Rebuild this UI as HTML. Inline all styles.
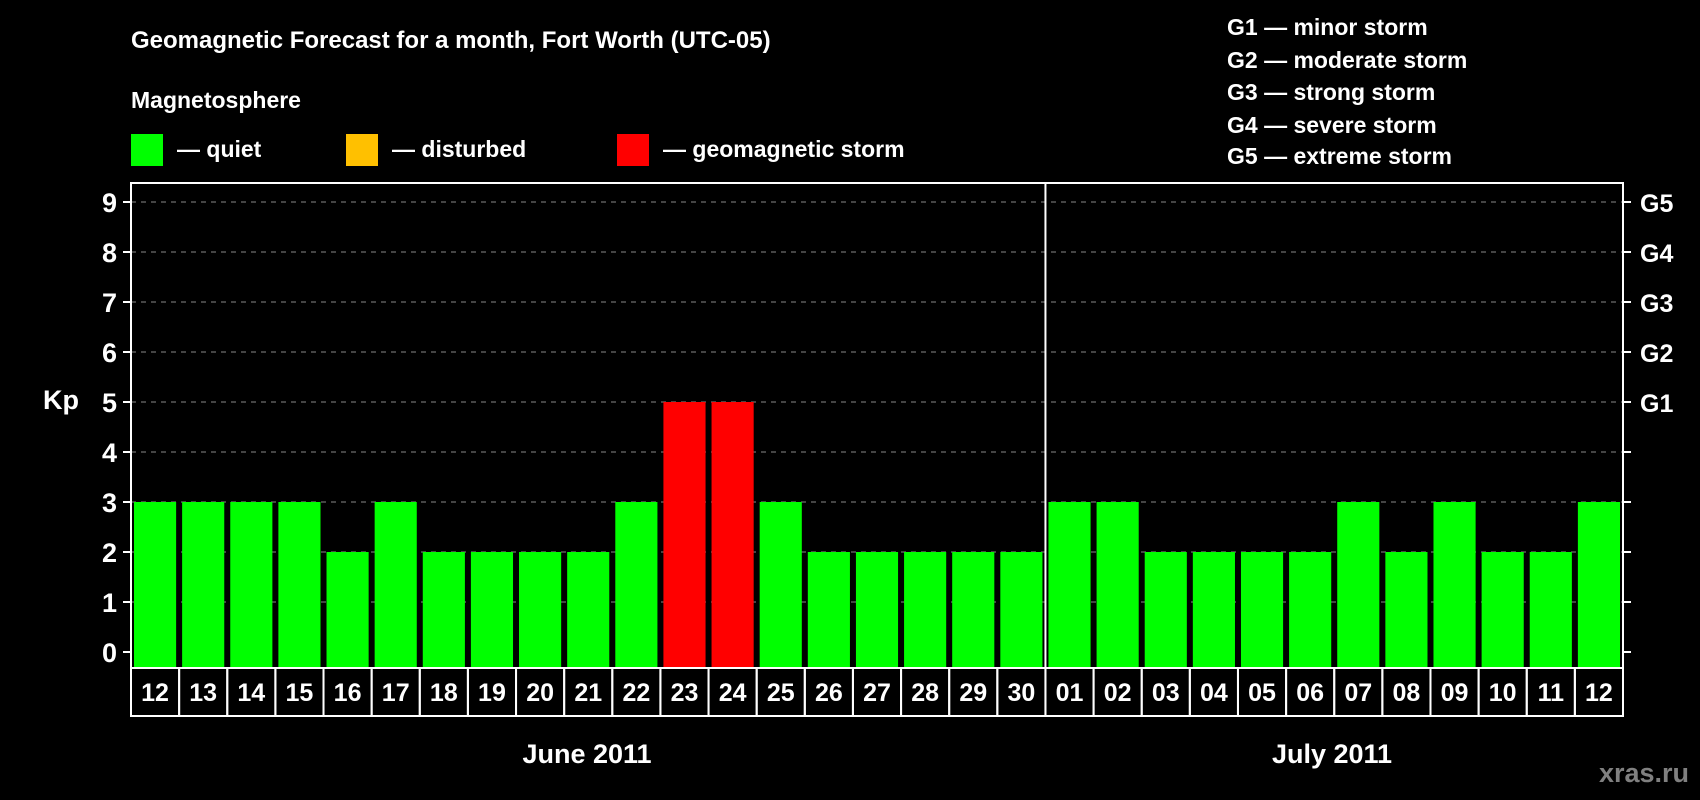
<!DOCTYPE html>
<html><head><meta charset="utf-8"><style>
body{margin:0;background:#000;width:1700px;height:800px;overflow:hidden}
svg{display:block;font-family:"Liberation Sans",sans-serif;font-weight:bold}
</style></head><body>
<svg id="c" width="1700" height="800">
<text x="131" y="48" fill="#fff" font-size="24">Geomagnetic Forecast for a month, Fort Worth (UTC-05)</text>
<text x="131" y="108" fill="#fff" font-size="23">Magnetosphere</text>
<rect x="131" y="134" width="32" height="32" fill="#00ff00"/>
<text x="177" y="157" fill="#fff" font-size="23">— quiet</text>
<rect x="346" y="134" width="32" height="32" fill="#ffc000"/>
<text x="392" y="157" fill="#fff" font-size="23">— disturbed</text>
<rect x="617" y="134" width="32" height="32" fill="#ff0000"/>
<text x="663" y="157" fill="#fff" font-size="23">— geomagnetic storm</text>
<g fill="#fff" font-size="23">
<text x="1227" y="35">G1 — minor storm</text>
<text x="1227" y="68">G2 — moderate storm</text>
<text x="1227" y="100">G3 — strong storm</text>
<text x="1227" y="133">G4 — severe storm</text>
<text x="1227" y="164">G5 — extreme storm</text>
</g>
<text x="43" y="409" fill="#fff" font-size="27">Kp</text>
<text x="587" y="763" fill="#fff" font-size="27" text-anchor="middle">June 2011</text>
<text x="1332" y="763" fill="#fff" font-size="27" text-anchor="middle">July 2011</text>
<text x="1689" y="782" fill="#808080" font-size="27" text-anchor="end">xras.ru</text>
<g id="plot"></g>
</svg>
<script>
const days=["12","13","14","15","16","17","18","19","20","21","22","23","24","25","26","27","28","29","30","01","02","03","04","05","06","07","08","09","10","11","12"];
const kpValues=[3,3,3,3,2,3,2,2,2,2,3,5,5,3,2,2,2,2,2,3,3,2,2,2,2,3,2,3,2,2,3];
const yTicks=[0,1,2,3,4,5,6,7,8,9];
const gLabels={5:"G1",6:"G2",7:"G3",8:"G4",9:"G5"};
const monthSplit=19;
const NS="http://www.w3.org/2000/svg";
const L=131,R=1623,T=183,B=668,row=716;
const slot=(R-L)/days.length;
const x=i=>L+i*slot;
const y=v=>652-v*50;
const g=document.getElementById('plot');
function mk(t,a){const e=document.createElementNS(NS,t);for(const k in a)e.setAttribute(k,a[k]);g.appendChild(e);return e;}
yTicks.forEach(v=>{
  if(v>0){const gl=mk('line',{x1:L,x2:R,y1:y(v),y2:y(v),stroke:'#888','stroke-dasharray':'5,5','stroke-width':1});
  
  }
  const t1=mk('line',{x1:L-8,x2:L,y1:y(v),y2:y(v),stroke:'#fff','stroke-width':2});
  
  
  const t2=mk('line',{x1:R,x2:R+8,y1:y(v),y2:y(v),stroke:'#fff','stroke-width':2});
  
  
  const lb=mk('text',{x:L-14,y:y(v)+10,fill:'#fff','font-size':27,'text-anchor':'end'});lb.textContent=v;
  
  
  if(gLabels[v]){const gl2=mk('text',{x:R+17,y:y(v)+10,fill:'#fff','font-size':25});gl2.textContent=gLabels[v];
  
  }
});
kpValues.forEach((v,i)=>{
  const c=v>=5?'#ff0000':(v>=4?'#ffc000':'#00ff00');
  const b=mk('rect',{x:x(i)+3,y:y(v),width:slot-6,height:B-y(v),fill:c});
  
  
  const cell=mk('rect',{x:x(i),y:B,width:slot,height:row-B,fill:'none',stroke:'#fff','stroke-width':2});
  
  
  const t=mk('text',{x:x(i)+slot/2,y:B+33,fill:'#fff','font-size':25,'text-anchor':'middle'});t.textContent=days[i];
  
  
});
const sep=mk('line',{x1:x(monthSplit),x2:x(monthSplit),y1:T,y2:B,stroke:'#fff','stroke-width':2});


const frame=mk('rect',{x:L,y:T,width:R-L,height:B-T,fill:'none',stroke:'#fff','stroke-width':2});


</script>
</body></html>
